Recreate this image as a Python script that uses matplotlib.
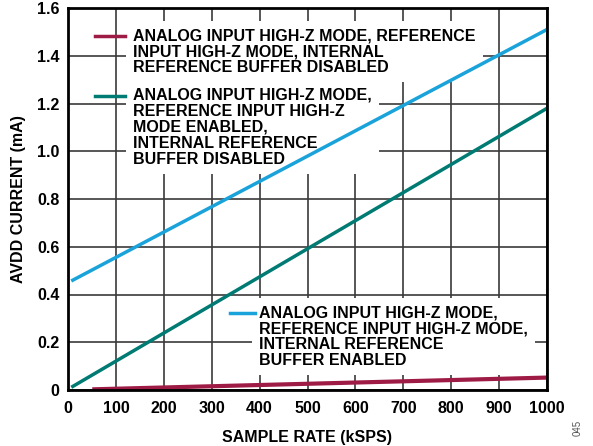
import matplotlib
matplotlib.use("Agg")
import matplotlib.pyplot as plt

plt.rcParams['font.family'] = ['Liberation Sans', 'DejaVu Sans']
plt.rcParams['font.weight'] = 'bold'

# sample rate (kSPS) endpoints and AVDD current (mA)
rate_disabled = [55, 1000]
avdd_disabled = [0.003, 0.052]
rate_refdis = [10, 1000]
avdd_refdis = [0.015, 1.18]
rate_refen = [10, 1000]
avdd_refen = [0.46, 1.51]

LABELS = ['ANALOG INPUT HIGH-Z MODE, REFERENCE\nINPUT HIGH-Z MODE, INTERNAL\nREFERENCE BUFFER DISABLED',
          'ANALOG INPUT HIGH-Z MODE,\nREFERENCE INPUT HIGH-Z\nMODE ENABLED,\nINTERNAL REFERENCE\nBUFFER DISABLED',
          'ANALOG INPUT HIGH-Z MODE,\nREFERENCE INPUT HIGH-Z MODE,\nINTERNAL REFERENCE\nBUFFER ENABLED']
COLORS = ['#9E1B45', '#007B73', '#1AA3DA']

fig = plt.figure(figsize=(5.93, 4.46), dpi=100)
ax = fig.add_axes([68 / 593, 56 / 446, 479 / 593, 382 / 446])

ax.plot(rate_refen, avdd_refen, color=COLORS[2], lw=2.5, zorder=3)
ax.plot(rate_refdis, avdd_refdis, color=COLORS[1], lw=2.5, zorder=3)
ax.plot(rate_disabled, avdd_disabled, color=COLORS[0], lw=3, zorder=3)

ax.set_xlim(0, 1000)
ax.set_ylim(0, 1.6)
ax.set_xticks(range(0, 1001, 100))
ax.set_yticks([0, 0.2, 0.4, 0.6, 0.8, 1.0, 1.2, 1.4, 1.6])
ax.set_yticklabels(['0', '0.2', '0.4', '0.6', '0.8', '1.0', '1.2', '1.4', '1.6'])
ax.grid(True, color='#3a3a3a', lw=1.2)
ax.set_axisbelow(True)
ax.tick_params(length=0, labelsize=11.5)
ax.tick_params(axis='x', pad=8)
ax.tick_params(axis='y', pad=6)
for s in ax.spines.values():
    s.set_linewidth(2)
    s.set_zorder(4)
ax.set_xlabel('SAMPLE RATE (kSPS)', fontsize=11.5, fontweight='bold', labelpad=10)
ax.set_ylabel('AVDD CURRENT (mA)', fontsize=11.5, fontweight='bold', labelpad=8)

# legend entries as boxed text with line keys: (text x, text top y, key x0, key x1, key y)
legend_pos = [(136, 1.515, 56, 119, 1.483),
              (136, 1.265, 56, 119, 1.231),
              (399, 0.355, 338, 390, 0.322)]
for i, (tx, ty, x0, x1, ky) in enumerate(legend_pos):
    ax.text(tx, ty, LABELS[i], fontsize=11.5, fontweight='bold', va='top', ha='left',
            linespacing=1.08, zorder=2,
            bbox=dict(facecolor='white', edgecolor='none', pad=5))
    ax.plot([x0, x1], [ky, ky], color=COLORS[i], lw=2.5, zorder=3)

fig.text(578 / 593, 10 / 446, '045', rotation=90, fontsize=7, color='#555555',
         fontweight='normal', ha='center', va='bottom')

fig.savefig('out.png', dpi=100)
